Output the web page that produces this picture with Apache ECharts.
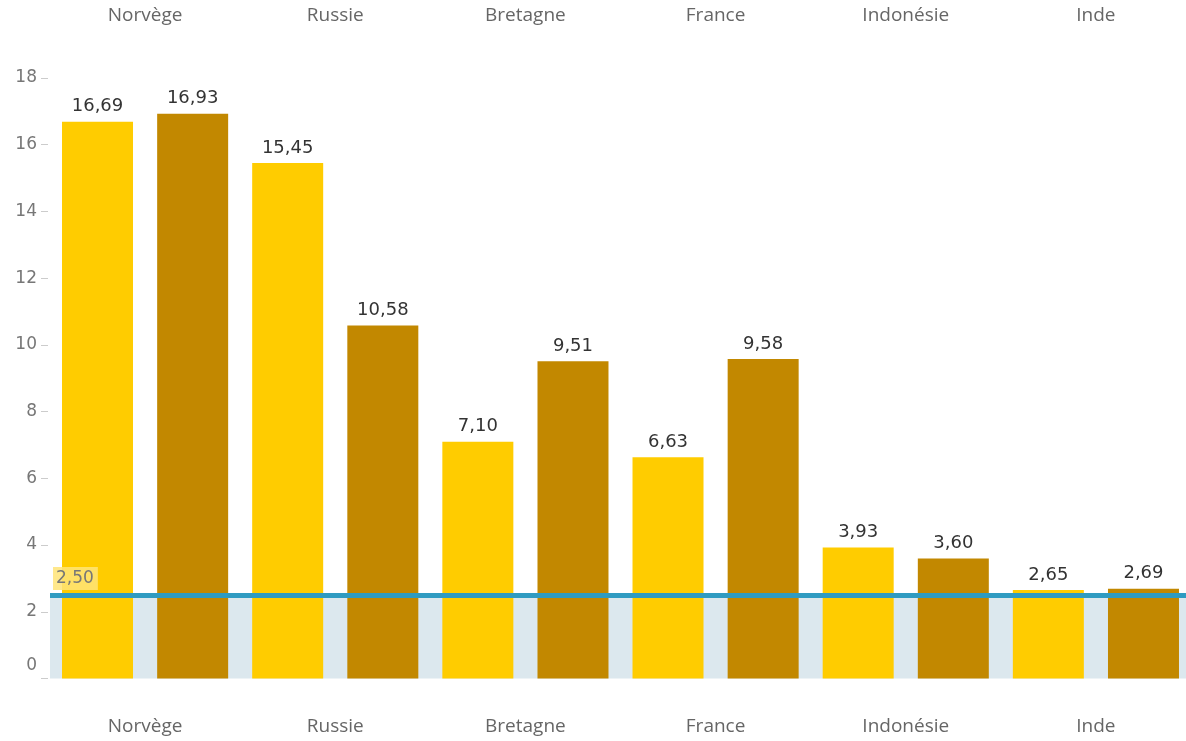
<!DOCTYPE html>
<html><head><meta charset="utf-8">
<script src="https://cdn.jsdelivr.net/npm/echarts@6/dist/echarts.min.js"></script>
<style>html,body{margin:0;padding:0;background:#fff}#c{width:1186px;height:741px}</style>
</head><body><div id="c"></div>
<script>
const categories = ['Norvège','Russie','Bretagne','France','Indonésie','Inde'];
const seriesA = [16.69, 15.45, 7.10, 6.63, 3.93, 2.65];
const seriesB = [16.93, 10.58, 9.51, 9.58, 3.60, 2.69];
const refValue = 2.5;
const yTicks = [0,2,4,6,8,10,12,14,16,18];

const fmt = v => v.toFixed(2).replace('.', ',');
const font = '"Open Sans", "Noto Sans", sans-serif';
const numFont = '"DejaVu Sans", sans-serif';
const chart = echarts.init(document.getElementById('c'));
chart.setOption({
  animation: false,
  grid: {left: 50, width: 1141, top: 78, bottom: 62.5, outerBoundsMode: 'none', containLabel: false},
  xAxis: [
    {type: 'category', data: categories, position: 'bottom',
     axisLine: {show: false}, axisTick: {show: false},
     axisLabel: {margin: 39, fontSize: 19, color: '#666', fontFamily: font}},
    {type: 'category', data: categories, position: 'top',
     axisLine: {show: false}, axisTick: {show: false},
     axisLabel: {margin: 53, fontSize: 19, color: '#666', fontFamily: font}}
  ],
  yAxis: {
    type: 'value', min: yTicks[0], max: yTicks[yTicks.length-1], interval: 2,
    offset: 2,
    splitLine: {show: false},
    axisLine: {show: false},
    axisTick: {show: true, length: 7, lineStyle: {color: '#ccc'}},
    axisLabel: {margin: 11, fontSize: 17, color: '#777', fontFamily: numFont,
      formatter: v => v === 0 ? '{z|0}' : String(v),
      rich: {z: {fontSize: 17, color: '#777', fontFamily: numFont, padding: [0,0,26,0]}}}
  },
  series: [
    {type: 'bar', data: seriesA.map(() => refValue), silent: true, barWidth: 0, z: 0,
     itemStyle: {color: 'transparent'},
     markArea: {silent: true, itemStyle: {color: '#DCE8EE'}, data: [[{yAxis: 0}, {yAxis: refValue}]]}},
    {type: 'bar', name: 'A', data: seriesA, barWidth: 71, barGap: '34%', z: 2,
     itemStyle: {color: '#FFCC00'},
     label: {show: true, position: 'top', distance: 6, fontSize: 18, color: '#333', fontFamily: numFont,
       formatter: p => fmt(p.value)}},
    {type: 'bar', name: 'B', data: seriesB, barWidth: 71, barGap: '34%', z: 2,
     itemStyle: {color: '#C28800'},
     label: {show: true, position: 'top', distance: 6, fontSize: 18, color: '#333', fontFamily: numFont,
       formatter: p => fmt(p.value)},
     markLine: {silent: true, symbol: 'none', z: 5,
       lineStyle: {color: '#2F9BC1', width: 5, type: 'solid'},
       label: {show: true, position: 'insideStartTop', distance: [3, 5],
         formatter: () => fmt(refValue), fontSize: 17, color: '#777', fontFamily: numFont,
         backgroundColor: 'rgba(255,228,120,0.85)', padding: [3, 4, 3, 3]},
       data: [{yAxis: refValue}]}}
  ]
});
</script></body></html>
